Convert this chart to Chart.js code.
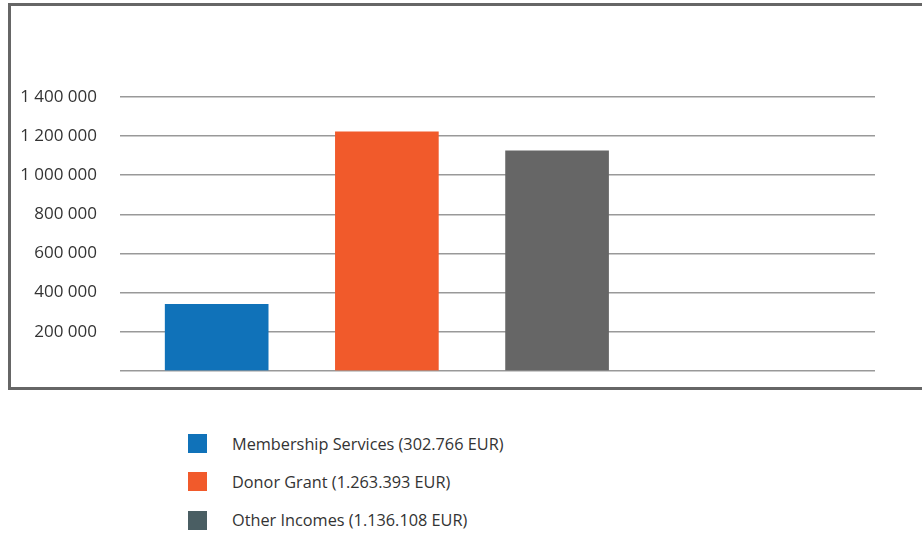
<!DOCTYPE html>
<html>
<head>
<meta charset="utf-8">
<script src="https://cdn.jsdelivr.net/npm/chart.js@4.4.1/dist/chart.umd.min.js"></script>
<style>
  html, body { margin: 0; padding: 0; background: #fff; width: 922px; height: 533px; overflow: hidden; }
  #box { position: absolute; left: 8px; top: 3px; width: 940px; height: 381px; border: 3.5px solid #666; border-right: none; box-sizing: content-box; pointer-events: none; }
  #wrap { position: absolute; left: 0; top: 0; width: 922px; height: 404px; }
  #legend { position: absolute; left: 188px; top: 434px; margin: 0; padding: 0; list-style: none;
            font-family: "Open Sans", sans-serif; font-size: 16.3px; color: #333; }
  #legend li { height: 19px; margin-bottom: 19.3px; display: flex; align-items: center; white-space: nowrap; }
  #legend .sw { width: 19px; height: 19px; margin-right: 25px; flex: none; }
</style>
</head>
<body>
<div id="wrap"><canvas id="c"></canvas></div>
<div id="box"></div>
<ul id="legend"></ul>
<script>
const categories = ["Membership Services", "Donor Grant", "Other Incomes"];
const legendLabels = ["Membership Services (302.766 EUR)", "Donor Grant (1.263.393 EUR)", "Other Incomes (1.136.108 EUR)"];
const values = [340000, 1222000, 1125000];
const barColors = ["#1072b9", "#f15a2b", "#666666"];
const legendColors = ["#1072b9", "#f15a2b", "#4a5e63"];
const yTicks = [0, 200000, 400000, 600000, 800000, 1000000, 1200000, 1400000];

function fmt(v) { return String(v).replace(/\B(?=(\d{3})+(?!\d))/g, " "); }

const ctx = document.getElementById("c");
new Chart(ctx, {
  type: "bar",
  data: {
    datasets: [{
      label: "Income",
      data: values.map((v, i) => ({ x: i, y: v })),
      backgroundColor: barColors,
      borderWidth: 0,
      barThickness: 103
    }]
  },
  options: {
    responsive: true,
    maintainAspectRatio: false,
    animation: false,
    layout: { padding: { left: 0, right: 47, top: 97, bottom: 25.5 } },
    plugins: { legend: { display: false }, tooltip: { enabled: false } },
    scales: {
      x: { type: "linear", min: -0.568, max: 3.868, offset: false, display: false },
      y: {
        min: yTicks[0], max: yTicks[yTicks.length - 1],
        afterBuildTicks: (s) => { s.ticks = yTicks.map(v => ({ value: v })); },
        afterFit: (s) => { s.width = 120; },
        border: { display: false },
        grid: { color: "#999", lineWidth: 1.5, drawTicks: false },
        ticks: {
          padding: 23,
          color: "#333",
          font: { family: "Open Sans", size: 17 },
          callback: (v) => v === 0 ? "" : fmt(v)
        }
      }
    }
  }
});

const ul = document.getElementById("legend");
legendLabels.forEach((t, i) => {
  const li = document.createElement("li");
  const sw = document.createElement("span");
  sw.className = "sw";
  sw.style.background = legendColors[i];
  li.appendChild(sw);
  li.appendChild(document.createTextNode(t));
  ul.appendChild(li);
});
</script>
</body>
</html>
